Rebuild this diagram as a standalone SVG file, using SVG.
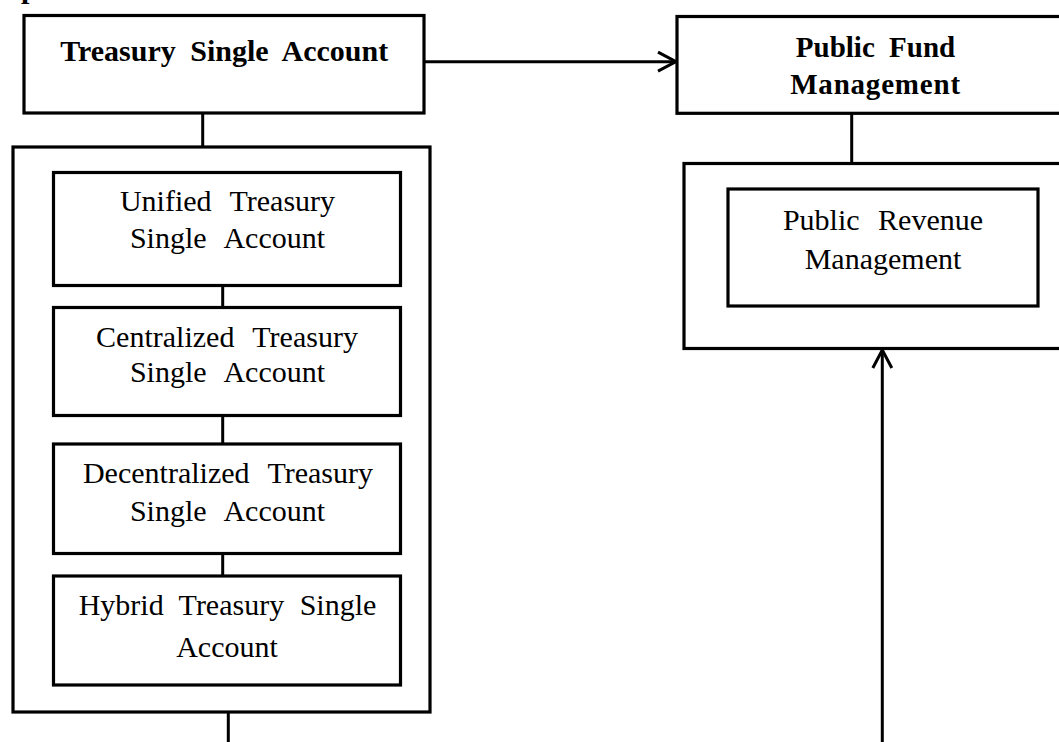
<svg xmlns="http://www.w3.org/2000/svg" width="1059" height="742" viewBox="0 0 1059 742">
<style>
  .box { fill: #ffffff; stroke: #000000; stroke-width: 3.2; }
  .line { fill: none; stroke: #000000; stroke-width: 3; }
  .t { font-family: "Liberation Serif", "Times New Roman", serif; font-size: 30px; fill: #000000; text-anchor: middle; word-spacing: 11px; }
  .b { font-family: "Liberation Serif", "Times New Roman", serif; font-size: 30px; font-weight: bold; fill: #000000; text-anchor: middle; word-spacing: 7px; }
</style>
<defs>
  <marker id="arr" markerUnits="userSpaceOnUse" markerWidth="22" markerHeight="24" viewBox="0 0 22 24" refX="20" refY="12" orient="auto">
    <path d="M2,2.5 L20,12 L2,21.5" fill="none" stroke="#000000" stroke-width="3"/>
  </marker>
</defs>
<rect width="1059" height="742" fill="#ffffff"/>
<text x="21" y="-2.5" font-family="Liberation Serif, serif" font-size="30" font-weight="bold">p</text>
<g id="tsa">
  <rect class="box" x="24" y="15.5" width="400" height="97.5"/>
  <text class="b" x="224.2" y="61">Treasury Single Account</text>
</g>
<g id="tsa-types">
  <rect class="box" x="13" y="147" width="417" height="565"/>
</g>
<g id="unified">
  <rect class="box" x="53.5" y="172.5" width="347" height="113"/>
  <text class="t" x="227.5" y="211">Unified Treasury</text>
  <text class="t" x="227.5" y="248.3">Single Account</text>
</g>
<g id="centralized">
  <rect class="box" x="53.5" y="307.5" width="347" height="108"/>
  <text class="t" x="227" y="346.7">Centralized Treasury</text>
  <text class="t" x="227.5" y="382.3">Single Account</text>
</g>
<g id="decentralized">
  <rect class="box" x="53.5" y="444" width="347" height="109.5"/>
  <text class="t" x="228" y="483.3">Decentralized Treasury</text>
  <text class="t" x="227.5" y="520.7">Single Account</text>
</g>
<g id="hybrid">
  <rect class="box" x="53.5" y="576" width="347" height="109"/>
  <text class="t" x="227.5" y="615" style="word-spacing:8px">Hybrid Treasury Single</text>
  <text class="t" x="227" y="657.3">Account</text>
</g>
<g id="pfm">
  <rect class="box" x="677" y="16.5" width="400" height="96.8"/>
  <text class="b" x="875.5" y="57.3" style="font-size:29px">Public Fund</text>
  <text class="b" x="875.5" y="94.3" style="font-size:29px;letter-spacing:0.8px">Management</text>
</g>
<g id="pfm-group">
  <rect class="box" x="684" y="163.5" width="400" height="185"/>
</g>
<g id="revenue">
  <rect class="box" x="728" y="189" width="310" height="117"/>
  <text class="t" x="883" y="230">Public Revenue</text>
  <text class="t" x="883" y="269.3">Management</text>
</g>
<g id="connectors">
  <line class="line" x1="202.7" y1="113" x2="202.7" y2="147"/>
  <line class="line" x1="222.7" y1="285.5" x2="222.7" y2="307.5"/>
  <line class="line" x1="222.7" y1="415.5" x2="222.7" y2="444"/>
  <line class="line" x1="222.7" y1="553.5" x2="222.7" y2="576"/>
  <line class="line" x1="228.3" y1="712" x2="228.3" y2="742"/>
  <line class="line" x1="425" y1="61.7" x2="676" y2="61.7" marker-end="url(#arr)"/>
  <line class="line" x1="851.7" y1="113" x2="851.7" y2="163.5"/>
  <line class="line" x1="882.3" y1="742" x2="882.3" y2="350" marker-end="url(#arr)"/>
</g>
</svg>
